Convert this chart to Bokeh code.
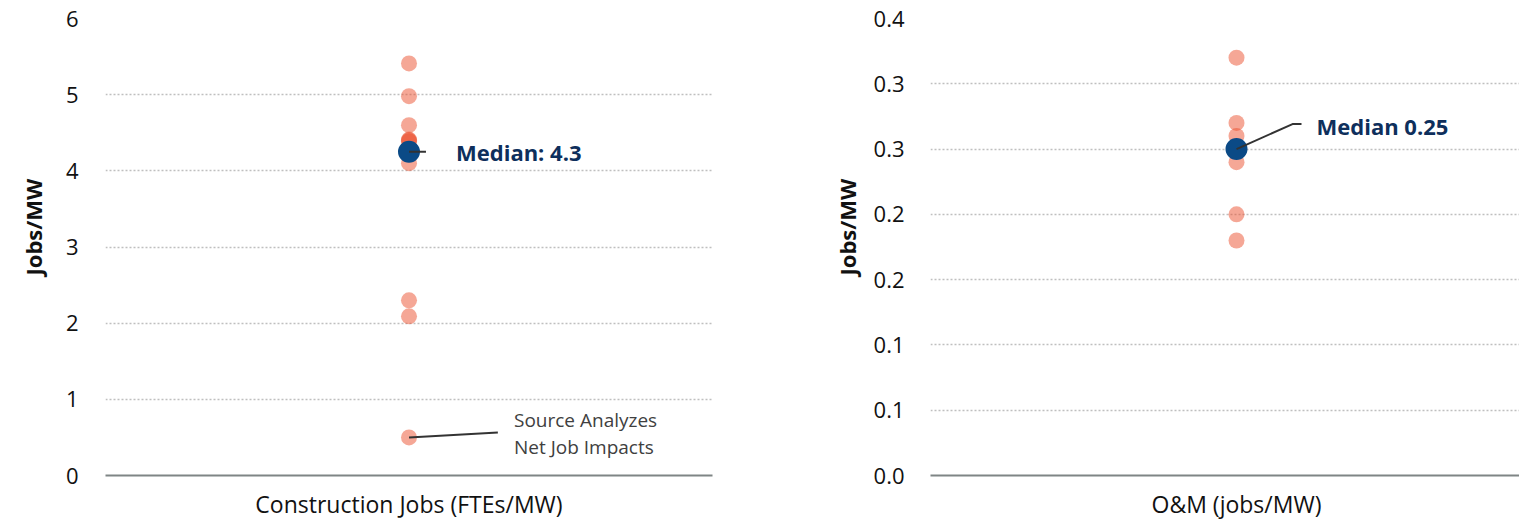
from bokeh.plotting import figure
from bokeh.layouts import row
from bokeh.models import Range1d, FixedTicker, Title
from bokeh.embed import file_html
from bokeh.resources import INLINE
from bokeh.core.properties import value

# ---------------- data ----------------
construction_values = [5.41, 4.98, 4.60, 4.41, 4.40, 4.39, 4.10, 2.30, 2.09, 0.50]
construction_median = 4.25
construction_label = "Construction Jobs (FTEs/MW)"
construction_ticks = [0, 1, 2, 3, 4, 5, 6]
construction_tick_labels = ["0", "1", "2", "3", "4", "5", "6"]
construction_median_text = "Median: 4.3"
construction_note_value = 0.50
construction_note_text = "Source Analyzes\nNet Job Impacts"

om_values = [0.32, 0.27, 0.26, 0.24, 0.20, 0.18]
om_median = 0.25
om_label = "O&M (jobs/MW)"
om_ticks = [0, 0.05, 0.10, 0.15, 0.20, 0.25, 0.30, 0.35]
om_tick_labels = ["0.0", "0.1", "0.1", "0.2", "0.2", "0.3", "0.3", "0.4"]
om_median_text = "Median 0.25"

y_title = "Jobs/MW"

# ---------------- style ----------------
FONT = "Open Sans"
H = 522
BT, BB = 18, 47
POINT_COLOR = "#EC4F2E"
MEDIAN_COLOR = "#0B4A86"
MEDIAN_TEXT_COLOR = "#0E2F5C"
LINE_COLOR = "#333333"
TICK_SIZE = "22px"


def panel(values, median, ticks, tick_labels, x_label, x_end, width, bl, br,
          label_standoff, title_standoff):
    p = figure(width=width, height=H, x_range=Range1d(-1, x_end),
               y_range=Range1d(ticks[0], ticks[-1]),
               output_backend="svg", toolbar_location=None,
               min_border_left=bl, min_border_right=br,
               min_border_top=BT, min_border_bottom=BB)
    p.outline_line_color = None
    p.background_fill_color = "white"
    p.border_fill_color = "white"
    p.xgrid.visible = False
    p.ygrid.ticker = FixedTicker(ticks=ticks[1:])
    p.ygrid.grid_line_color = "#bfbfbf"
    p.ygrid.grid_line_dash = "2 2"
    p.ygrid.grid_line_width = 1.5

    ya = p.yaxis[0]
    ya.ticker = FixedTicker(ticks=ticks)
    ya.major_label_overrides = {t: l for t, l in zip(ticks, tick_labels)}
    ya.axis_line_color = None
    ya.major_tick_line_color = None
    ya.minor_tick_line_color = None
    ya.major_label_standoff = label_standoff
    ya.major_label_text_font = FONT
    ya.major_label_text_font_size = TICK_SIZE
    ya.major_label_text_color = "#111111"

    # y-axis title, placed a little above the frame centre
    p.add_layout(Title(text=y_title, align="left", offset=200,
                       standoff=title_standoff, text_font=FONT,
                       text_font_style="bold", text_font_size="22px",
                       text_color="#111111"), "left")

    xa = p.xaxis[0]
    xa.ticker = FixedTicker(ticks=[0])
    xa.major_label_overrides = {0: x_label}
    xa.major_tick_line_color = None
    xa.minor_tick_line_color = None
    xa.axis_line_color = "#7f8585"
    xa.axis_line_width = 2
    xa.major_label_standoff = 6
    xa.major_label_text_font = FONT
    xa.major_label_text_font_size = "23px"
    xa.major_label_text_color = "#111111"

    p.scatter([0] * len(values), values, size=16, color=POINT_COLOR,
              alpha=0.5, line_color=None)
    p.scatter([0], [median], size=22, color=MEDIAN_COLOR, line_color=None)

    fw = width - bl - br
    fh = H - BT - BB
    sx = (x_end + 1) / fw            # data units per px (x)
    sy = (ticks[-1] - ticks[0]) / fh  # data units per px (y)
    return p, sx, sy


# left panel
WL, BLL, BRL = 760, 104, 48
pl, sxl, syl = panel(construction_values, construction_median,
                     construction_ticks, construction_tick_labels,
                     construction_label, 1.0, WL, BLL, BRL, 21, 30)
pl.line([0, 17 * sxl], [construction_median, construction_median],
        line_color=LINE_COLOR, line_width=2)
pl.text([0], [construction_median], text=[construction_median_text],
        x_offset=47, text_align="left", text_baseline="middle",
        text_font=value(FONT), text_font_style="bold",
        text_font_size="22px", text_color=MEDIAN_TEXT_COLOR)
pl.line([0, 89 * sxl], [construction_note_value, construction_note_value + 5 * syl],
        line_color=LINE_COLOR, line_width=2)
pl.text([0], [construction_note_value], text=[construction_note_text],
        x_offset=105, y_offset=-4, text_align="left", text_baseline="middle",
        text_font=value(FONT), text_font_size="19px", text_color="#404040",
        text_line_height=1.05)

# right panel
WR, BLR, BRR = 759, 170, 0
om_x_end = (WR - BLR - BRR) / 306.0 - 1.0
pr, sxr, syr = panel(om_values, om_median, om_ticks, om_tick_labels,
                     om_label, om_x_end, WR, BLR, BRR, 20, 17)
pr.line([0, 56 * sxr, 65 * sxr],
        [om_median, om_median + 25 * syr, om_median + 25 * syr],
        line_color=LINE_COLOR, line_width=2)
pr.text([0], [om_median], text=[om_median_text],
        x_offset=80, y_offset=-23, text_align="left", text_baseline="middle",
        text_font=value(FONT), text_font_style="bold",
        text_font_size="22px", text_color=MEDIAN_TEXT_COLOR)

layout = row(pl, pr)
open("out.html", "w").write(file_html(layout, INLINE))
